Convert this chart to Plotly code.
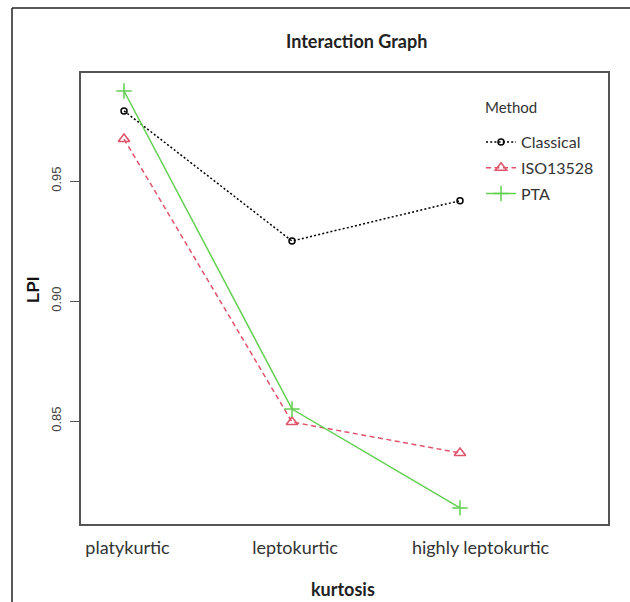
import plotly.graph_objects as go

# ---- data ----
categories = ["platykurtic", "leptokurtic", "highly leptokurtic"]
methods = ["Classical", "ISO13528", "PTA"]
classical = [0.9792, 0.9250, 0.9418]
iso13528 = [0.9675, 0.8496, 0.8367]
pta = [0.9875, 0.8550, 0.8138]
y_ticks = [0.85, 0.90, 0.95]
y_ticktext = ["0.85", "0.90", "0.95"]

series = [classical, iso13528, pta]
colors = ["#000000", "#DF536B", "#61D04F"]
dashes = ["2px,2.2px", "5px,3.5px", "solid"]
symbols = ["circle-open", "triangle-up-open", "cross-thin-open"]
msizes = [6, 10, 11]

W, H = 630, 602
L, R, T, B = 81, 22, 73, 78
pw, ph = W - L - R, H - T - B

def px(xpix):
    return (xpix - L) / pw

def py(ypix):
    return (H - B - ypix) / ph

xpos = [i + 1 for i in range(len(categories))]
# label centres are slightly offset from the points in the reference
label_offsets = [0.021, 0.018, 0.122]
tickvals = [x + o for x, o in zip(xpos, label_offsets)]

fig = go.Figure()
for name, vals, c, d, s, ms in zip(methods, series, colors, dashes, symbols, msizes):
    fig.add_trace(go.Scatter(
        x=xpos, y=vals, name=name, mode="lines+markers",
        line=dict(color=c, width=1.5, dash=d),
        marker=dict(symbol=s, size=ms, color=c, line=dict(color=c, width=1.5)),
        legendgroup=name,
    ))

axis_line = "#555555"
fig.update_layout(
    width=W, height=H,
    margin=dict(l=L, r=R, t=T, b=B),
    paper_bgcolor="white", plot_bgcolor="white",
    showlegend=True,
    legend=dict(
        x=px(481), y=py(125), xanchor="left", yanchor="top",
        bgcolor="rgba(0,0,0,0)",
        font=dict(family="Lato", size=16, color="#333333"),
        itemwidth=30, tracegroupgap=2,
    ),
    xaxis=dict(
        range=[0.744, 3.881], showgrid=False, zeroline=False,
        tickvals=tickvals, ticktext=categories, ticks="",
        tickfont=dict(family="Lato", size=18, color="#333333"),
        showline=True, mirror=True, linecolor=axis_line, linewidth=1.5,
        ticklabelstandoff=7,
    ),
    yaxis=dict(
        range=[0.8071, 0.995], showgrid=False, zeroline=False,
        tickvals=y_ticks, ticktext=y_ticktext, ticks="outside", ticklen=9,
        tickcolor=axis_line, tickwidth=1.2, tickangle=-90,
        tickfont=dict(family="Liberation Sans", size=13, color="#444444"),
        showline=True, mirror=True, linecolor=axis_line, linewidth=1.5,
        ticklabelstandoff=4,
    ),
    annotations=[
        dict(text="<b>Interaction Graph</b>", x=px(356), y=py(41), xref="paper", yref="paper",
             xanchor="center", yanchor="middle",
             showarrow=False, font=dict(family="Lato", size=18, color="#222222")),
        dict(text="Method", x=px(511), y=py(107), xref="paper", yref="paper",
             xanchor="center", yanchor="middle",
             showarrow=False, font=dict(family="Lato", size=15, color="#333333")),
        dict(text="<b>kurtosis</b>", x=px(343), y=py(589), xref="paper", yref="paper",
             xanchor="center", yanchor="middle",
             showarrow=False, font=dict(family="Lato", size=18, color="#222222")),
        dict(text="<b>LPI</b>", x=px(33), y=py(290), xref="paper", yref="paper",
             xanchor="center", yanchor="middle",
             showarrow=False, textangle=-90,
             font=dict(family="Liberation Sans", size=17, color="#111111")),
    ],
    shapes=[
        dict(type="line", xref="paper", yref="paper", x0=px(12), x1=px(12), y0=py(8), y1=py(610),
             line=dict(color="#222222", width=1.5)),
        dict(type="line", xref="paper", yref="paper", x0=px(12), x1=px(640), y0=py(8), y1=py(8),
             line=dict(color="#222222", width=1.5)),
    ],
)

fig.write_html("out.html")
